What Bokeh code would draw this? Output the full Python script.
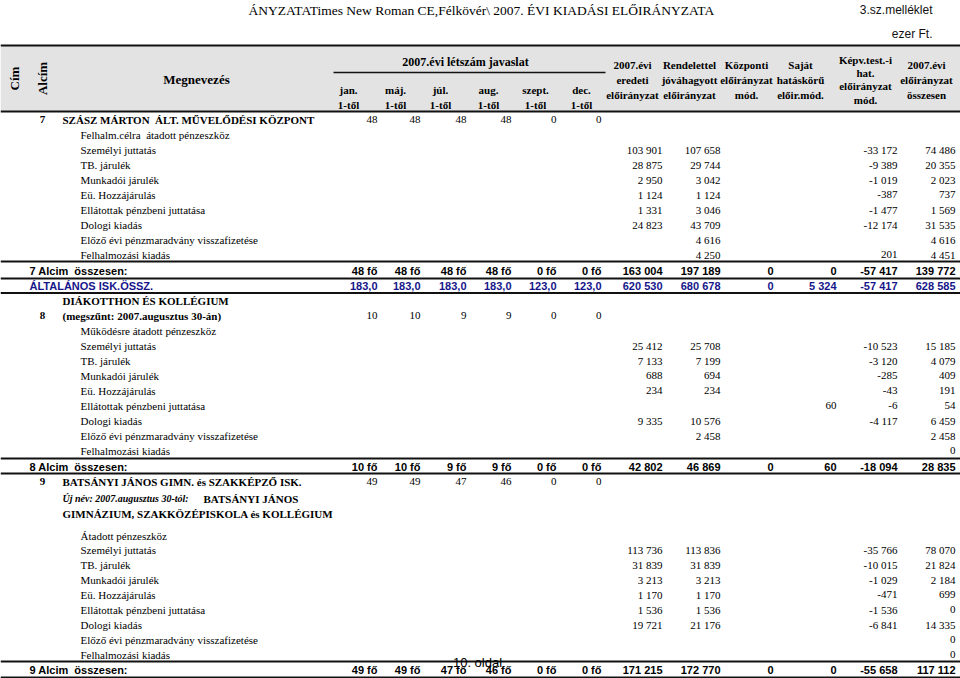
import math
from bokeh.plotting import figure
from bokeh.models import Range1d, ColumnDataSource
from bokeh.core.properties import value
from bokeh.embed import file_html
from bokeh.resources import INLINE

NB = "\u00a0"

# ---------------- data ----------------
title_text = "ÁNYZATATimes New Roman CE,Félkövér\\ 2007. ÉVI KIADÁSI ELŐIRÁNYZATA"
annex_text = "3.sz.melléklet"
unit_text = "ezer Ft."
footer_text = "10. oldal"

head_cim = "Cím"
head_alcim = "Alcím"
head_name = "Megnevezés"
head_staff = "2007.évi létszám javaslat"
months = ["jan.", "máj.", "júl.", "aug.", "szept.", "dec."]
month_from = ["1-től", "1-től", "1-től", "1-től", "1-től", "1-től"]
fin_headers = [
    ["2007.évi", "eredeti", "előirányzat"],
    ["Rendelettel", "jóváhagyott", "előirányzat"],
    ["Központi", "előirányzat", "mód."],
    ["Saját", "hatáskörű", "előir.mód."],
    ["Képv.test.-i", "hat.", "előirányzat", "mód."],
    ["2007.évi", "előirányzat", "összesen"],
]

items = ["Személyi juttatás", "TB. járulék", "Munkadói járulék", "Eü. Hozzájárulás",
         "Ellátottak pénzbeni juttatása", "Dologi kiadás",
         "Előző évi pénzmaradvány visszafizetése", "Felhalmozási kiadás"]

# Section 7
s7_no = "7"
s7_title = "SZÁSZ MÁRTON" + NB + " ÁLT. MŰVELŐDÉSI KÖZPONT"
s7_staff = [48, 48, 48, 48, 0, 0]
s7_transfer = "Felhalm.célra" + NB + " átadott pénzeszköz"
s7_eredeti = [103901, 28875, 2950, 1124, 1331, 24823, None, None]
s7_rendelet = [107658, 29744, 3042, 1124, 3046, 43709, 4616, 4250]
s7_kozp = [None] * 8
s7_sajat = [None] * 8
s7_kepv = [-33172, -9389, -1019, -387, -1477, -12174, None, 201]
s7_ossz = [74486, 20355, 2023, 737, 1569, 31535, 4616, 4451]
s7_sum_label = "7 Alcim" + NB + " összesen:"
s7_sum_staff = [48, 48, 48, 48, 0, 0]
s7_sum_fin = [163004, 197189, 0, 0, -57417, 139772]

# Általános iskolák összesen
alt_label = "ÁLTALÁNOS ISK.ÖSSZ."
alt_staff = [183.0, 183.0, 183.0, 183.0, 123.0, 123.0]
alt_fin = [620530, 680678, 0, 5324, -57417, 628585]

# Section 8
s8_no = "8"
s8_title = ["DIÁKOTTHON ÉS KOLLÉGIUM", "(megszűnt: 2007.augusztus 30-án)"]
s8_staff = [10, 10, 9, 9, 0, 0]
s8_transfer = "Működésre átadott pénzeszköz"
s8_eredeti = [25412, 7133, 688, 234, None, 9335, None, None]
s8_rendelet = [25708, 7199, 694, 234, None, 10576, 2458, None]
s8_kozp = [None] * 8
s8_sajat = [None, None, None, None, 60, None, None, None]
s8_kepv = [-10523, -3120, -285, -43, -6, -4117, None, None]
s8_ossz = [15185, 4079, 409, 191, 54, 6459, 2458, 0]
s8_sum_label = "8 Alcim" + NB + " összesen:"
s8_sum_staff = [10, 10, 9, 9, 0, 0]
s8_sum_fin = [42802, 46869, 0, 60, -18094, 28835]

# Section 9
s9_no = "9"
s9_title = "BATSÁNYI JÁNOS GIMN. és SZAKKÉPZŐ ISK."
s9_staff = [49, 49, 47, 46, 0, 0]
s9_newname_it = "Új név: 2007.augusztus 30-tól:"
s9_newname_1 = "BATSÁNYI JÁNOS"
s9_newname_2 = "GIMNÁZIUM, SZAKKÖZÉPISKOLA és KOLLÉGIUM"
s9_transfer = "Átadott pénzeszköz"
s9_eredeti = [113736, 31839, 3213, 1170, 1536, 19721, None, None]
s9_rendelet = [113836, 31839, 3213, 1170, 1536, 21176, None, None]
s9_kozp = [None] * 8
s9_sajat = [None] * 8
s9_kepv = [-35766, -10015, -1029, -471, -1536, -6841, None, None]
s9_ossz = [78070, 21824, 2184, 699, 0, 14335, 0, 0]
s9_sum_label = "9 Alcim" + NB + " összesen:"
s9_sum_staff = [49, 49, 47, 46, 0, 0]
s9_sum_fin = [171215, 172770, 0, 0, -55658, 117112]

# ---------------- layout (positions only) ----------------
W, H = 960, 678
STAFF_X = [377, 420, 466, 511, 556, 601]
FIN_X = [662, 720, 773, 836, 897, 955]
MONTH_CX = [348, 395, 440, 488, 535, 581]
FIN_CX = [632, 689, 746, 800, 865, 926]
STEP = 15

BLUE = "#16168a"
SERIF = "Liberation Serif"
SANS = "Liberation Sans"

STYLES = {
    "title": dict(font=SERIF, size="13.5px", style="normal", color="#000", align="left"),
    "small_sans_r": dict(font=SANS, size="12px", style="normal", color="#111", align="right"),
    "footer": dict(font=SANS, size="13px", style="normal", color="#000", align="center"),
    "hdr_c": dict(font=SERIF, size="11px", style="bold", color="#000", align="center"),
    "hdr12_c": dict(font=SERIF, size="12px", style="bold", color="#000", align="center"),
    "hdr13_c": dict(font=SERIF, size="13px", style="bold", color="#000", align="center"),
    "txt_l": dict(font=SERIF, size="11px", style="normal", color="#000", align="left"),
    "txt_r": dict(font=SERIF, size="11px", style="normal", color="#000", align="right"),
    "bold_l": dict(font=SERIF, size="11px", style="bold", color="#000", align="left"),
    "bold_c": dict(font=SERIF, size="11px", style="bold", color="#000", align="center"),
    "bi_l": dict(font=SERIF, size="10px", style="bold italic", color="#000", align="left"),
    "sum_l": dict(font=SANS, size="11px", style="bold", color="#000", align="left"),
    "sum_r": dict(font=SANS, size="11px", style="bold", color="#000", align="right"),
    "blue_l": dict(font=SANS, size="11px", style="bold", color=BLUE, align="left"),
    "blue_r": dict(font=SANS, size="11px", style="bold", color=BLUE, align="right"),
}

texts = {k: {"x": [], "y": [], "text": []} for k in STYLES}


def add(style, x, y, t):
    if t is None or t == "":
        return
    texts[style]["x"].append(x)
    texts[style]["y"].append(y)
    texts[style]["text"].append(t)


def fmt(v):
    if v is None:
        return ""
    s = f"{abs(v):,}".replace(",", NB)
    return "-" + s if v < 0 else s


def fmt_dec(v):
    return f"{v:.1f}".replace(".", ",")


# header
add("title", 248, 10, title_text)
add("small_sans_r", 932, 9, annex_text)
add("small_sans_r", 932, 33, unit_text)
add("hdr13_c", 196, 79, head_name)
add("hdr12_c", 465, 61, head_staff)
for cx, m, f in zip(MONTH_CX, months, month_from):
    add("hdr_c", cx, 89, m)
    add("hdr_c", cx, 104, f)
for cx, lines in zip(FIN_CX, fin_headers):
    ys = [59, 72, 85, 99] if len(lines) == 4 else [64, 79, 94]
    for yy, t in zip(ys, lines):
        add("hdr_c", cx, yy, t)


def item_rows(y_start, eredeti, rendelet, kozp, sajat, kepv, ossz):
    for i, name in enumerate(items):
        yy = y_start + i * STEP
        add("txt_l", 80, yy, name)
        for x, col in zip(FIN_X, [eredeti, rendelet, kozp, sajat, kepv, ossz]):
            add("txt_r", x, yy, fmt(col[i]))


def staff_row(yy, staff):
    for x, v in zip(STAFF_X, staff):
        add("txt_r", x, yy, str(v))


def sum_row(yy, label, staff, fin, l_style="sum_l", r_style="sum_r", dec=False):
    add(l_style, 29, yy, label)
    for x, v in zip(STAFF_X, staff):
        add(r_style, x, yy, fmt_dec(v) if dec else f"{v}{NB}fő")
    for x, v in zip(FIN_X, fin):
        add(r_style, x, yy, fmt(v))


# section 7
y = 119
add("bold_c", 42, y, s7_no)
add("bold_l", 62, y, s7_title)
staff_row(y, s7_staff)
add("txt_l", 80, y + STEP, s7_transfer)
item_rows(y + 2 * STEP, s7_eredeti, s7_rendelet, s7_kozp, s7_sajat, s7_kepv, s7_ossz)
y7_sum = y + 2 * STEP + 8 * STEP + 1
sum_row(y7_sum, s7_sum_label, s7_sum_staff, s7_sum_fin)
y_alt = y7_sum + 15
sum_row(y_alt, alt_label, alt_staff, alt_fin, "blue_l", "blue_r", dec=True)

# section 8
y8a = y_alt + 15
y8 = y8a + 15
add("bold_l", 62, y8a, s8_title[0])
add("bold_c", 42, y8, s8_no)
add("bold_l", 62, y8, s8_title[1])
staff_row(y8, s8_staff)
add("txt_l", 80, y8 + STEP, s8_transfer)
item_rows(y8 + 2 * STEP, s8_eredeti, s8_rendelet, s8_kozp, s8_sajat, s8_kepv, s8_ossz)
y8_sum = y8 + 2 * STEP + 8 * STEP + 1
sum_row(y8_sum, s8_sum_label, s8_sum_staff, s8_sum_fin)

# section 9
y9 = y8_sum + STEP
add("bold_c", 42, y9, s9_no)
add("bold_l", 62, y9, s9_title)
staff_row(y9, s9_staff)
add("bi_l", 62, y9 + 17, s9_newname_it)
add("bold_l", 203, y9 + 17, s9_newname_1)
add("bold_l", 62, y9 + 32, s9_newname_2)
y9t = y9 + 54
add("txt_l", 80, y9t, s9_transfer)
item_rows(y9t + 14, s9_eredeti, s9_rendelet, s9_kozp, s9_sajat, s9_kepv, s9_ossz)
y9_sum = y9t + 14 + 8 * STEP
sum_row(y9_sum, s9_sum_label, s9_sum_staff, s9_sum_fin)

add("footer", 477, 662, footer_text)

# ---------------- figure ----------------
p = figure(width=W, height=H, x_range=Range1d(0, W), y_range=Range1d(H, 0),
           x_axis_type=None, y_axis_type=None, output_backend="svg",
           toolbar_location=None, min_border=0)
p.grid.visible = False
p.outline_line_color = None
p.background_fill_color = "white"
p.border_fill_color = "white"

# header background
p.quad(left=[0], right=[W], top=[45], bottom=[111], fill_color="#e3e3e3", line_color=None)

# horizontal rules
rule_y = [45, 111, y7_sum - 9, y7_sum + 8, y_alt + 7.5,
          y8_sum - 8, y8_sum + 7, y9_sum - 8, y9_sum + 8]
p.segment(x0=[0] * len(rule_y), x1=[W] * len(rule_y), y0=rule_y, y1=rule_y,
          line_color="#111", line_width=2)
p.segment(x0=[333], x1=[605], y0=[72], y1=[72], line_color="#111", line_width=1.5)

for k, st in STYLES.items():
    d = texts[k]
    if not d["text"]:
        continue
    p.text(x="x", y="y", text="text", source=ColumnDataSource(d),
           text_font=value(st["font"]), text_font_size=st["size"],
           text_font_style=st["style"], text_color=st["color"],
           text_align=st["align"], text_baseline="middle")

# rotated column headers
p.text(x=[14, 42], y=[78, 78], text=[head_cim, head_alcim], angle=math.pi / 2,
       text_font=value(SERIF), text_font_size="13px", text_font_style="bold",
       text_color="#000", text_align="center", text_baseline="middle")

open("out.html", "w").write(file_html(p, INLINE))
